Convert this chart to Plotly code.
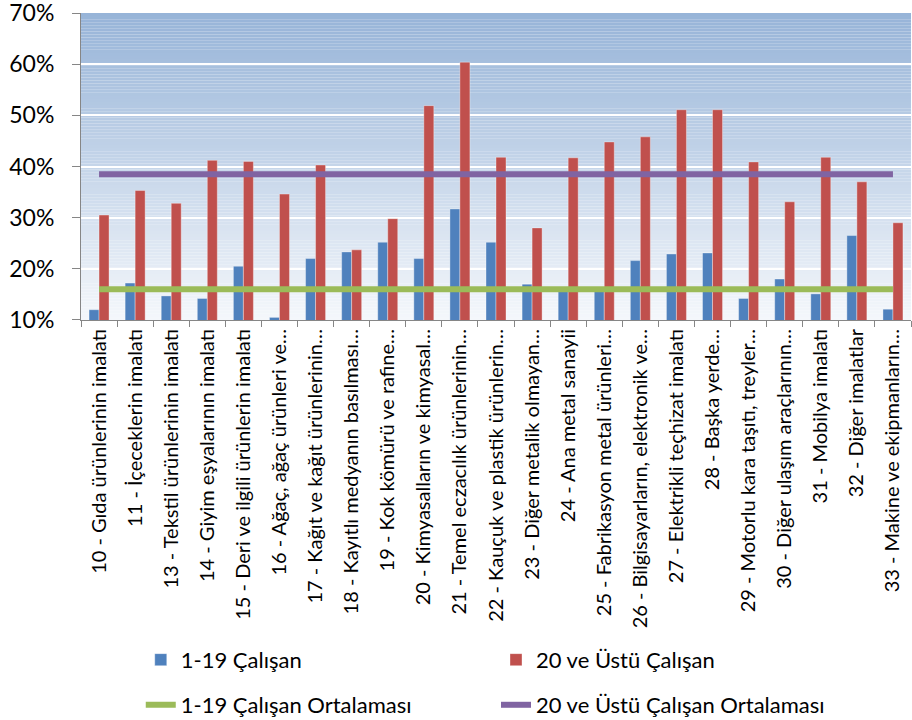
import plotly.graph_objects as go

# Sectors (NACE 2-digit), labels as truncated in the original chart
sectors = [
    "10 - Gıda ürünlerinin imalatı",
    "11 - İçeceklerin imalatı",
    "13 - Tekstil ürünlerinin imalatı",
    "14 - Giyim eşyalarının imalatı",
    "15 - Deri ve ilgili ürünlerin imalatı",
    "16 - Ağaç, ağaç ürünleri ve…",
    "17 - Kağıt ve kağıt ürünlerinin…",
    "18 - Kayıtlı medyanın basılması…",
    "19 - Kok kömürü ve rafine…",
    "20 - Kimyasalların ve kimyasal…",
    "21 - Temel eczacılık ürünlerinin…",
    "22 - Kauçuk ve plastik ürünlerin…",
    "23 - Diğer metalik olmayan…",
    "24 - Ana metal sanayii",
    "25 - Fabrikasyon metal ürünleri…",
    "26 - Bilgisayarların, elektronik ve…",
    "27 - Elektrikli teçhizat imalatı",
    "28 - Başka yerde…",
    "29 - Motorlu kara taşıtı, treyler…",
    "30 - Diğer ulaşım araçlarının…",
    "31 - Mobilya imalatı",
    "32 - Diğer imalatlar",
    "33 - Makine ve ekipmanların…",
]

small_firms = [0.120, 0.172, 0.147, 0.142, 0.205, 0.105, 0.220, 0.233, 0.252, 0.220,
               0.317, 0.252, 0.170, 0.162, 0.158, 0.216, 0.229, 0.231, 0.142, 0.180,
               0.151, 0.265, 0.121]
large_firms = [0.305, 0.353, 0.328, 0.412, 0.410, 0.346, 0.403, 0.237, 0.298, 0.519,
               0.604, 0.418, 0.280, 0.417, 0.448, 0.458, 0.511, 0.511, 0.409, 0.331,
               0.418, 0.370, 0.290]

small_avg = 0.160
large_avg = 0.385

FONT = "Lato"

fig = go.Figure()

fig.add_trace(go.Bar(x=sectors, y=small_firms, name="1-19 Çalışan",
                     marker=dict(color="#4F81BD", line=dict(color="rgba(255,255,255,0.35)", width=1)),
                     legend="legend"))
fig.add_trace(go.Bar(x=sectors, y=large_firms, name="20 ve Üstü Çalışan",
                     marker=dict(color="#C0504D", line=dict(color="rgba(255,255,255,0.35)", width=1)),
                     legend="legend2"))
fig.add_trace(go.Scatter(x=sectors, y=[small_avg] * len(sectors), mode="lines",
                         name="1-19 Çalışan Ortalaması",
                         line=dict(color="#9BBB59", width=6), legend="legend3"))
fig.add_trace(go.Scatter(x=sectors, y=[large_avg] * len(sectors), mode="lines",
                         name="20 ve Üstü Çalışan Ortalaması",
                         line=dict(color="#8064A2", width=6), legend="legend4"))

# vertical gradient background of the plot area (top blue -> bottom near white)
top = (151, 180, 216)
bot = (244, 247, 251)
n = 100
for i in range(n):
    t = i / (n - 1)
    c = tuple(round(top[k] + (bot[k] - top[k]) * t) for k in range(3))
    fig.add_shape(type="rect", xref="x domain", yref="y domain",
                  x0=0, x1=1, y0=1 - (i + 1) / n, y1=1 - i / n,
                  fillcolor="rgb(%d,%d,%d)" % c, line_width=0, layer="below")

legend_common = dict(orientation="h", xanchor="left", yanchor="middle",
                     font=dict(family=FONT, size=22, color="#000000"),
                     bgcolor="rgba(0,0,0,0)", itemclick=False)

col1, col2 = 0.072, 0.50
row1, row2 = -1.107, -1.254

fig.update_layout(
    width=912, height=720,
    margin=dict(l=81, r=1, t=13, b=400, autoexpand=False),
    paper_bgcolor="white",
    plot_bgcolor="rgba(0,0,0,0)",
    barmode="group",
    bargap=0.446,
    bargroupgap=0,
    font=dict(family=FONT, color="#000000"),
    legend=dict(x=col1, y=row1, **legend_common),
    legend2=dict(x=col2, y=row1, **legend_common),
    legend3=dict(x=col1, y=row2, **legend_common),
    legend4=dict(x=col2, y=row2, **legend_common),
    showlegend=True,
)

fig.update_yaxes(range=[0.0999, 0.7001], dtick=0.1, tick0=0, tickformat=".0%",
                 showgrid=True, gridcolor="white", gridwidth=2,
                 showline=True, linecolor="#868686", linewidth=1,
                 ticks="outside", ticklen=8, tickcolor="#868686",
                 ticklabelstandoff=13, ticklabeloverflow="allow",
                 tickfont=dict(family=FONT, size=23, color="#000000"),
                 zeroline=False, automargin=False)
fig.update_xaxes(tickangle=-90, tickson="boundaries",
                 showgrid=False, showline=True, linecolor="#868686", linewidth=1,
                 ticks="outside", ticklen=6, tickcolor="#868686",
                 tickfont=dict(family=FONT, size=20, color="#000000"),
                 automargin=False)

fig.write_html("out.html", config={"displayModeBar": False},
               post_script="document.body.style.margin='0';")
